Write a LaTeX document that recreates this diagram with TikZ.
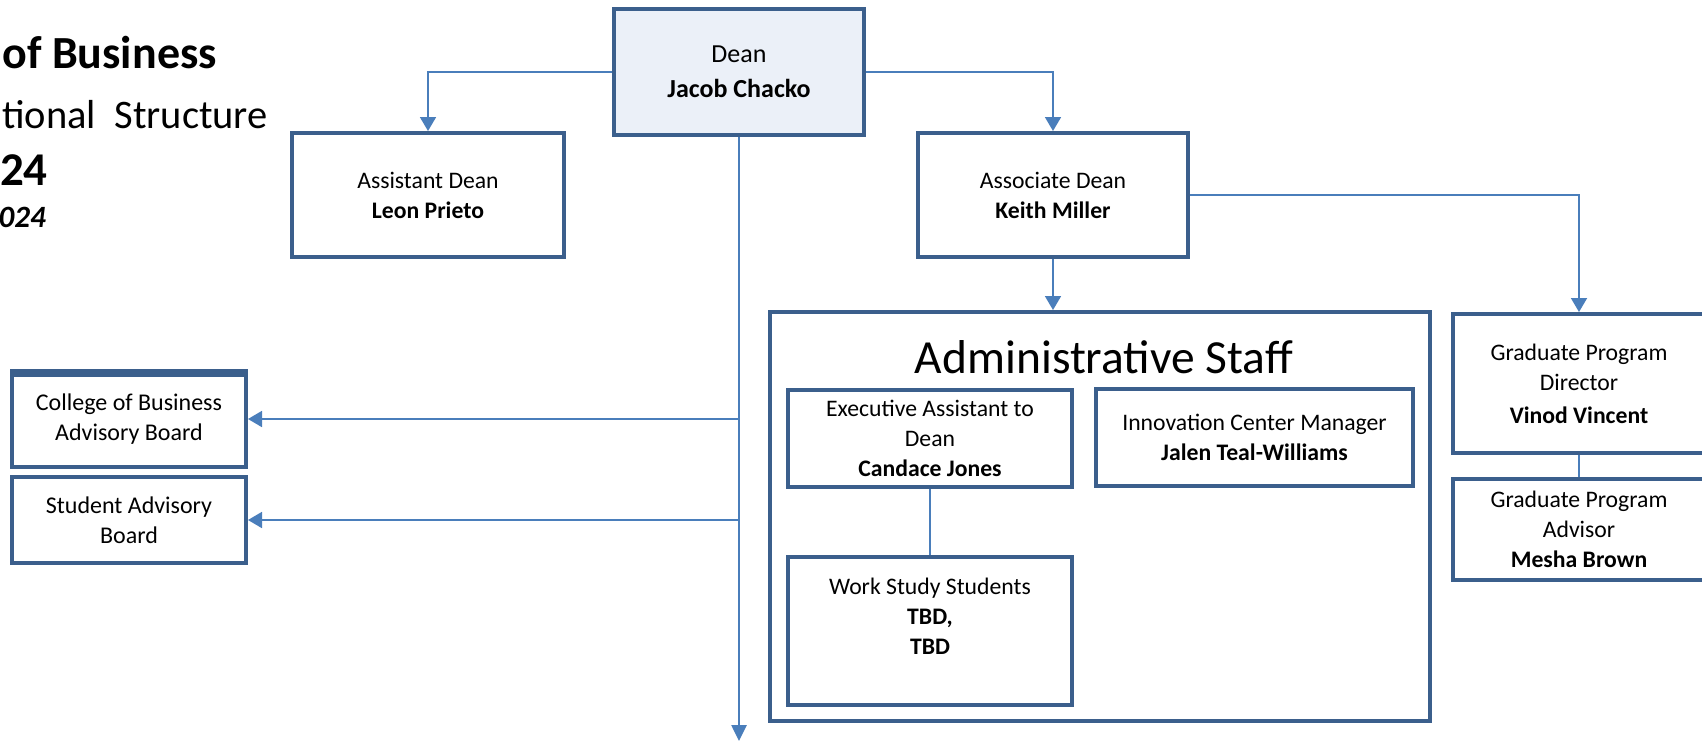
\documentclass[tikz,border=0pt]{standalone}
\usepackage{fontspec}
\setmainfont{Carlito}
\usetikzlibrary{arrows.meta}
\definecolor{boxc}{HTML}{3B5F8C}
\definecolor{linec}{HTML}{4A7EBB}
\definecolor{deanfill}{HTML}{EBF0F8}
\begin{document}
\begin{tikzpicture}[x=1pt,y=-1pt,
  orgbox/.style={draw=boxc, line width=4pt, rectangle, inner sep=0pt, align=center, fill=white},
  smalltxt/.style={font=\fontsize{23.7}{30}\selectfont},
  conn/.style={draw=linec, line width=1.8pt},
  arr/.style={conn, -{Triangle[length=14pt,width=16pt]}},
  titletxt/.style={anchor=base east, inner sep=0pt}
]
\fill[white] (0,0) rectangle (1702,742);
\useasboundingbox (0,0) rectangle (1702,742);
\clip (0,0) rectangle (1702,742);

% title (clipped at the left in the original)
\node[titletxt, font=\bfseries\fontsize{46}{50}\selectfont] (t1) at (217,68) {of Business};
\node[titletxt, font=\fontsize{40.5}{46}\selectfont] (t2) at (268,128) {tional\ \ Structure};
\node[titletxt, font=\bfseries\fontsize{47}{50}\selectfont] (t3) at (48,185) {24};
\node[titletxt, font=\bfseries\itshape\fontsize{31}{34}\selectfont] (t4) at (46,227) {024};

% boxes
\node[orgbox, fill=deanfill, minimum width=250pt, minimum height=126pt, font=\fontsize{26}{35}\selectfont] (dean) at (739,72) {Dean\\\textbf{Jacob Chacko}};
\node[orgbox, smalltxt, minimum width=272pt, minimum height=124pt] (asst) at (428,195) {Assistant Dean\\\textbf{Leon Prieto}};
\node[orgbox, smalltxt, minimum width=270pt, minimum height=124pt] (assoc) at (1053,195) {Associate Dean\\\textbf{Keith Miller}};
\node[orgbox, font=\fontsize{24}{30}\selectfont, minimum width=234pt, minimum height=96pt] (cob) at (129,419) {College of Business\\Advisory Board};
\draw[boxc, line width=4pt] ([yshift=-6pt]cob.north west) -- ([yshift=-6pt]cob.north east);
\node[orgbox, font=\fontsize{24}{30}\selectfont, minimum width=234pt, minimum height=86pt] (sab) at (129,520) {Student Advisory\\Board};

\node[orgbox, minimum width=660pt, minimum height=409pt] (admin) at (1100,516.5) {};
\node[anchor=base, inner sep=0pt, font=\fontsize{47.5}{50}\selectfont] (admintitle) at (1104,373) {Administrative Staff};
\node[orgbox, smalltxt, minimum width=284pt, minimum height=97pt] (exec) at (930,438.5) {Executive Assistant to\\Dean\\\textbf{Candace Jones}};
\node[orgbox, smalltxt, minimum width=284pt, minimum height=148pt] (wss) at (930,631) {Work Study Students\\\textbf{TBD,}\\\textbf{TBD}\\\mbox{}};
\node[orgbox, smalltxt, minimum width=317pt, minimum height=97pt] (icm) at (1254.5,437.5) {Innovation Center Manager\\\textbf{Jalen Teal-Williams}};

\node[orgbox, smalltxt, minimum width=252pt, minimum height=139pt] (gpd) at (1579,383.5) {Graduate Program\\Director\\[3pt]\textbf{Vinod Vincent}};
\node[orgbox, smalltxt, minimum width=252pt, minimum height=101pt] (gpa) at (1579,529.5) {Graduate Program\\Advisor\\\textbf{Mesha Brown}};

% connectors
\draw[arr] (dean.west) -| (asst.north);
\draw[arr] (dean.east) -| (assoc.north);
\coordinate (vend) at (739,741);
\draw[conn, line width=2.6pt, -{Triangle[length=16pt,width=15pt]}] (dean.south) -- (vend);
\draw[arr] (dean.south |- cob.east) -- (cob.east);
\draw[arr] (dean.south |- sab.east) -- (sab.east);
\draw[arr] (assoc.south) -- (assoc.south |- admin.north);
\draw[arr] (assoc.east) -| (gpd.north);
\draw[conn] (gpd.south) -- (gpa.north);
\draw[conn] (exec.south) -- (wss.north);
\end{tikzpicture}
\end{document}
